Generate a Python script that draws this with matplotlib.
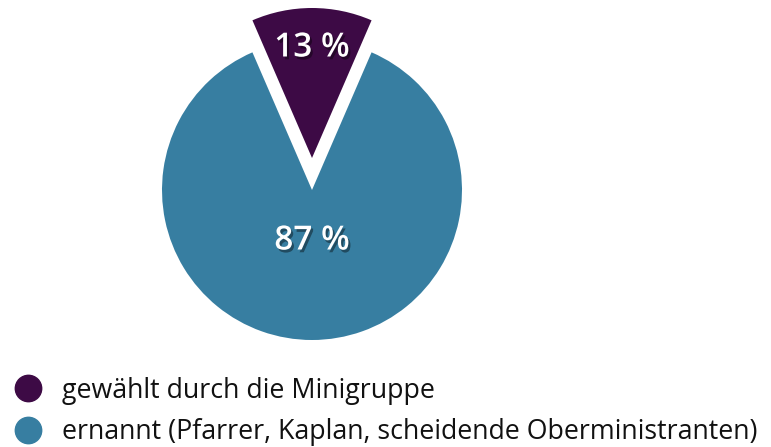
import matplotlib
matplotlib.use("Agg")
import matplotlib.pyplot as plt
import matplotlib.patheffects as pe
from matplotlib.lines import Line2D

labels = ["gewählt durch die Minigruppe", "ernannt (Pfarrer, Kaplan, scheidende Oberministranten)"]
values = [13, 87]
colors = ["#3d0a45", "#377ea1"]
pct_labels = ["13 %", "87 %"]

plt.rcParams['font.family'] = ['Open Sans', 'DejaVu Sans']

fig = plt.figure(figsize=(7.71, 4.47), dpi=100)
ax = fig.add_axes([0, 0, 1, 1])
ax.set_xlim(0, 771)
ax.set_ylim(0, 447)
ax.set_aspect('equal')
ax.axis('off')

cx, cy, r = 312, 257, 150
start = 90 - values[0] / sum(values) * 360 / 2
wedges, _ = ax.pie(values, colors=colors, startangle=start, counterclock=True,
                   center=(cx, cy), radius=r, explode=[32, 0],
                   wedgeprops=dict(linewidth=0))
ax.set_xlim(0, 771)
ax.set_ylim(0, 447)

shadow = [pe.withSimplePatchShadow(offset=(1.5, -2), shadow_rgbFace='black', alpha=0.4)]
ax.text(cx, 447 - 48, pct_labels[0], color='white', fontsize=24, fontweight='semibold',
        ha='center', va='center', path_effects=shadow)
ax.text(cx, 447 - 241, pct_labels[1], color='white', fontsize=24, fontweight='semibold',
        ha='center', va='center', path_effects=shadow)

handles = [Line2D([], [], marker='o', linestyle='none', markersize=19,
                  markerfacecolor=c, markeredgecolor=c) for c in colors]
leg = fig.legend(handles, labels, loc='lower left', bbox_to_anchor=(-0.005, -0.04),
                 frameon=False, fontsize=19.3, handletextpad=0.76, labelspacing=0.5,
                 handlelength=1.0, borderaxespad=0.3)
for t in leg.get_texts():
    t.set_color('#111111')

fig.savefig('out.png', dpi=100)
